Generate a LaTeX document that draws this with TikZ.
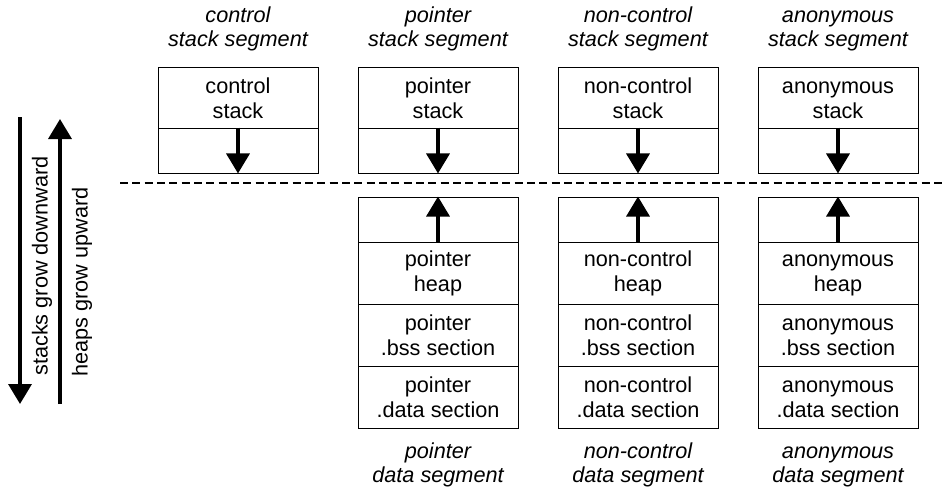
\documentclass[tikz,border=0pt]{standalone}
\usepackage{fontspec}
\setmainfont{Liberation Sans}
\usetikzlibrary{arrows.meta}
\newcommand{\lastline}{\rule{0pt}{14pt}}

\begin{document}
\begin{tikzpicture}[x=0.03cm,y=-0.03cm,
  cell/.style={draw,line width=0.8pt,minimum width=4.8cm,minimum height=#1,align=center,inner sep=0pt,font=\fontsize{18.5}{20}\selectfont},
  cell/.default=1.86cm,
  seglabel/.style={align=center,font=\fontsize{18.5}{20.5}\selectfont\itshape},
  growarrow/.style={-{Triangle[length=0.6cm,width=0.69cm]},line width=3pt}
]
\useasboundingbox (0,0) rectangle (942,493);

% stack segments, above the line
\foreach \x/\i/\what in {238/0/control,438/1/pointer,638/2/non-control,838/3/anonymous}{
  \node[seglabel] (stkseg\i) at (\x,28) {\strut\what\\\lastline stack segment};
  \node[cell=1.83cm] (stk\i) at (\x,98) {\strut\what\\\lastline stack};
  \node[cell=1.35cm] (stkgrow\i) at (\x,150.5) {};
  \draw[growarrow] (stkgrow\i.north) -- (stkgrow\i.south);
}

% dividing line
\coordinate (lineL) at (120,183);
\coordinate (lineR) at (942,183);
\draw[line width=2.5pt,dash pattern=on 0.24cm off 0.13cm] (lineL) -- (lineR);

% data segments, below the line
\foreach \x/\i/\what in {438/1/pointer,638/2/non-control,838/3/anonymous}{
  \node[cell=1.35cm] (heapgrow\i) at (\x,219.5) {};
  \node[cell] (heap\i) at (\x,273) {\strut\what\\\lastline heap};
  \node[cell] (bss\i) at (\x,335) {\strut\what\\\lastline.bss section};
  \node[cell] (data\i) at (\x,397) {\strut\what\\\lastline.data section};
  \node[seglabel] (dataseg\i) at (\x,464) {\strut\what\\\lastline data segment};
  \draw[growarrow] (heapgrow\i.south) -- (heapgrow\i.north);
}

% growth directions
\coordinate (downtop) at (20,117);
\coordinate (downbot) at (20,404);
\coordinate (uptop) at (60,119);
\coordinate (upbot) at (60,404);
\draw[growarrow] (downtop) -- (downbot);
\draw[growarrow] (upbot) -- (uptop);
\node[rotate=90,font=\fontsize{18.5}{20.5}\selectfont] (stacksdown) at (42,266) {stacks grow downward};
\node[rotate=90,font=\fontsize{18.5}{20.5}\selectfont] (heapsup) at (82,282) {heaps grow upward};
\end{tikzpicture}
\end{document}
